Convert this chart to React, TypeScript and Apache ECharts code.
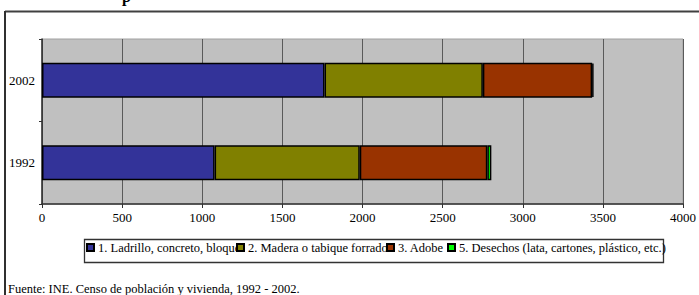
import React, { useEffect, useRef } from "react";
import * as echarts from "echarts";

const categories = ["1992", "2002"];
const seriesNames = [
  "1. Ladrillo, concreto, bloque",
  "2. Madera o tabique forrado",
  "3. Adobe",
  "5. Desechos (lata, cartones, plástico, etc.)",
];
const ladrillo = [1077, 1763];
const madera = [906, 988];
const adobe = [796, 682];
const desechos = [25, 9];
const seriesColors = ["#333399", "#808000", "#993300", "#00FF00"];
const legendLefts = [86, 236, 386, 447];
const footnote = "Fuente: INE. Censo de población y vivienda, 1992 - 2002.";

const FONT = "serif";

export default function App() {
  const ref = useRef<HTMLDivElement>(null);
  useEffect(() => {
    if (!ref.current) return;
    const chart = echarts.init(ref.current, null, { renderer: "svg" });
    const values = [ladrillo, madera, adobe, desechos];
    chart.setOption({
      animation: false,
      backgroundColor: "#ffffff",
      textStyle: { fontFamily: FONT },
      grid: {
        left: 42,
        right: 6,
        top: 39,
        height: 165,
        show: true,
        backgroundColor: "#c0c0c0",
        borderColor: "#a0a0a0",
        borderWidth: 1,
      },
      xAxis: {
        type: "value",
        min: 0,
        max: 4000,
        interval: 500,
        axisLine: { show: true, lineStyle: { color: "#303030", width: 1.5 } },
        axisTick: { show: true, inside: false, length: 4, lineStyle: { color: "#303030" } },
        splitLine: { show: true, lineStyle: { color: "#5a5a5a", width: 1 } },
        axisLabel: {
          color: "#000",
          fontSize: 13,
          fontFamily: FONT,
          margin: 7,
          formatter: (v: number) => String(v),
        },
      },
      yAxis: {
        type: "category",
        data: categories,
        axisLine: { show: true, lineStyle: { color: "#303030", width: 1.5 } },
        axisTick: { show: true, inside: false, length: 3, lineStyle: { color: "#303030" } },
        axisLabel: { color: "#000", fontSize: 13, fontFamily: FONT, margin: 7 },
      },
      legend: seriesNames.map((n, i) => ({
        data: [n],
        left: legendLefts[i],
        top: 241,
        itemWidth: 7,
        itemHeight: 7,
        padding: 0,
        icon: "rect",
        textStyle: { color: "#000", fontSize: 12.5, fontFamily: FONT, padding: [0, 0, 0, -1] },
        selectedMode: false,
      })),
      series: seriesNames.map((n, i) => ({
        name: n,
        type: "bar",
        stack: "total",
        barWidth: 35,
        data: values[i],
        itemStyle: { color: seriesColors[i], borderColor: "#000", borderWidth: 1.5 },
      })),
      graphic: [
        {
          type: "rect",
          left: 82,
          top: 237,
          shape: { x: 0, y: 0, width: 579, height: 23 },
          style: { fill: "none", stroke: "#333", lineWidth: 1.3 },
          z: -1,
        },
        {
          type: "line",
          shape: { x1: 5, y1: 11.5, x2: 699, y2: 11.5 },
          style: { stroke: "#404040", lineWidth: 2 },
        },
        {
          type: "line",
          shape: { x1: 5, y1: 11, x2: 5, y2: 295 },
          style: { stroke: "#303030", lineWidth: 2 },
        },
        {
          type: "text",
          x: 122,
          y: 4,
          style: {
            text: "p",
            fontSize: 16,
            fontWeight: "bold",
            fontFamily: FONT,
            fill: "#000",
            verticalAlign: "bottom",
          },
        },
        {
          type: "text",
          x: 8,
          y: 282,
          style: {
            text: footnote,
            fontSize: 12.5,
            fontFamily: FONT,
            fill: "#000",
            verticalAlign: "top",
          },
        },
      ],
    });
    return () => chart.dispose();
  }, []);
  return (
    <div
      ref={ref}
      style={{ position: "absolute", left: 0, top: 0, width: 699, height: 295 }}
    />
  );
}
